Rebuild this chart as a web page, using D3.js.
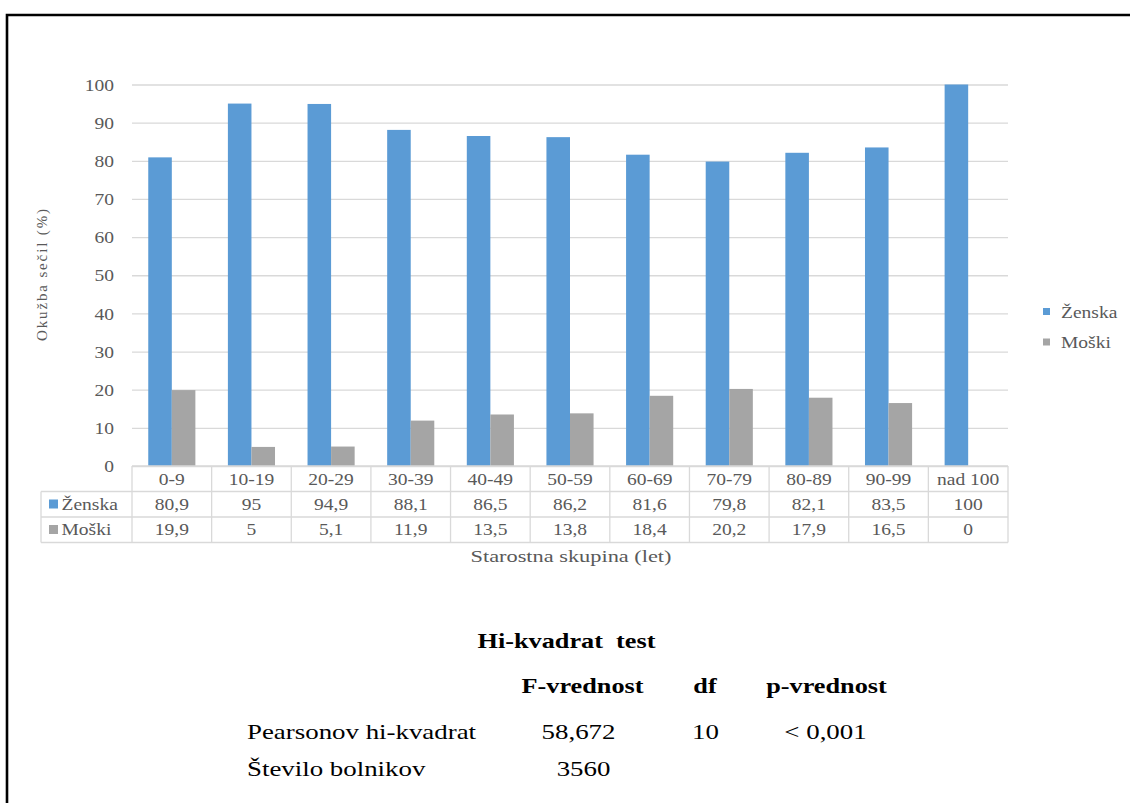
<!DOCTYPE html>
<html>
<head>
<meta charset="utf-8">
<script src="https://cdn.jsdelivr.net/npm/d3@7"></script>
<style>
  html, body { margin: 0; padding: 0; background: #fff; }
  svg { display: block; }
  text { font-family: "Liberation Serif", "Times New Roman", serif; }
</style>
</head>
<body>
<svg id="chart" width="1130" height="803"></svg>
<script>
// Age groups and infection share by sex (%)
const categories = ["0-9", "10-19", "20-29", "30-39", "40-49", "50-59", "60-69", "70-79", "80-89", "90-99", "nad 100"];
const zenska = [80.9, 95, 94.9, 88.1, 86.5, 86.2, 81.6, 79.8, 82.1, 83.5, 100];
const moski = [19.9, 5, 5.1, 11.9, 13.5, 13.8, 18.4, 20.2, 17.9, 16.5, 0];
const seriesNames = ["Ženska", "Moški"];
const seriesColors = ["#5B9BD5", "#A5A5A5"];
const yTicks = [0, 10, 20, 30, 40, 50, 60, 70, 80, 90, 100];

// Chi-square summary
const testTitle = "Hi-kvadrat  test";
const testHeaders = ["F-vrednost", "df", "p-vrednost"];
const testRows = [
  ["Pearsonov hi-kvadrat", "58,672", "10", "< 0,001"],
  ["Število bolnikov", "3560", "", ""]
];

const fmt = v => String(v).replace(".", ",");
const series = [zenska, moski];

const svg = d3.select("#chart");
const textColor = "#595959";
const gridColor = "#D9D9D9";
const fs = 16;          // chart text size
const sx = 1.22;        // horizontal stretch of chart text
const sxStats = 1.25;   // horizontal stretch of the summary text

// Places a horizontally stretched text at (x, y)
function put(sel, x, y, k = sx) {
  return sel.attr("x", 0).attr("y", 0)
    .attr("transform", `translate(${x},${y}) scale(${k},1)`);
}

// Frame
svg.append("path")
  .attr("d", "M7,803 V15 H1130")
  .attr("fill", "none")
  .attr("stroke", "#000")
  .attr("stroke-width", 2.6);

const plot = { left: 132, right: 1008, top: 84.5, bottom: 466 };

const x = d3.scaleBand().domain(categories).range([plot.left, plot.right]).paddingInner(0).paddingOuter(0);
const inner = d3.scaleBand().domain(seriesNames).range([0, x.bandwidth()]).paddingInner(0).paddingOuter(0.69);
const y = d3.scaleLinear().domain([0, 100]).range([plot.bottom, plot.top]);

// Gridlines and y labels
const yAxis = d3.axisLeft(y).tickValues(yTicks).tickSize(-(plot.right - plot.left)).tickPadding(18);
const gy = svg.append("g").attr("transform", `translate(${plot.left},0)`).call(yAxis);
gy.attr("font-family", null).attr("font-size", null);
gy.select(".domain").remove();
gy.selectAll(".tick line").attr("stroke", gridColor).attr("stroke-width", 1.3);
gy.selectAll(".tick text")
  .attr("fill", textColor)
  .attr("font-size", fs)
  .attr("dy", null)
  .each(function () { put(d3.select(this), -18, 5.6); });

// Bars
const groups = svg.append("g").selectAll("g")
  .data(categories)
  .join("g")
  .attr("transform", d => `translate(${x(d)},0)`);

groups.selectAll("rect")
  .data((d, i) => seriesNames.map((s, k) => ({ s, v: series[k][i], c: seriesColors[k] })))
  .join("rect")
  .attr("x", d => inner(d.s))
  .attr("width", inner.bandwidth())
  .attr("y", d => y(d.v))
  .attr("height", d => plot.bottom - y(d.v))
  .attr("fill", d => d.c);

// Data table below the plot
const rowH = 25.5;
const tableLeft = 41;
const tbl = svg.append("g").attr("stroke", gridColor).attr("stroke-width", 1.3).attr("fill", "none");
tbl.append("line").attr("x1", plot.left).attr("x2", plot.right).attr("y1", plot.bottom).attr("y2", plot.bottom);
[1, 2, 3].forEach(r => {
  tbl.append("line").attr("x1", tableLeft).attr("x2", plot.right)
    .attr("y1", plot.bottom + r * rowH).attr("y2", plot.bottom + r * rowH);
});
tbl.append("line").attr("x1", tableLeft).attr("x2", tableLeft)
  .attr("y1", plot.bottom + rowH).attr("y2", plot.bottom + 3 * rowH);
categories.forEach(c => {
  tbl.append("line").attr("x1", x(c)).attr("x2", x(c))
    .attr("y1", plot.bottom).attr("y2", plot.bottom + 3 * rowH);
});
tbl.append("line").attr("x1", plot.right).attr("x2", plot.right)
  .attr("y1", plot.bottom).attr("y2", plot.bottom + 3 * rowH);

const cellText = svg.append("g")
  .attr("font-size", fs)
  .attr("fill", textColor)
  .attr("text-anchor", "middle");

cellText.append("g").selectAll("text")
  .data(categories)
  .join("text")
  .text(d => d)
  .each(function (d) { put(d3.select(this), x(d) + x.bandwidth() / 2, plot.bottom + 19); });

series.forEach((vals, k) => {
  const rowY = plot.bottom + (k + 1) * rowH + 18;
  cellText.append("g").selectAll("text")
    .data(vals)
    .join("text")
    .text(d => fmt(d))
    .each(function (d, i) { put(d3.select(this), x(categories[i]) + x.bandwidth() / 2, rowY); });
  svg.append("rect")
    .attr("x", 49).attr("y", rowY - 10)
    .attr("width", 9).attr("height", 9)
    .attr("fill", seriesColors[k]);
  put(svg.append("text"), 61.5, rowY)
    .attr("font-size", fs).attr("fill", textColor)
    .text(seriesNames[k]);
});

// Axis titles
svg.append("text")
  .attr("transform", "translate(47,275) rotate(-90)")
  .attr("text-anchor", "middle")
  .attr("font-size", 15).attr("fill", textColor)
  .attr("textLength", 132).attr("lengthAdjust", "spacing")
  .text("Okužba sečil (%)");

svg.append("text")
  .attr("x", 571).attr("y", 561.5)
  .attr("text-anchor", "middle")
  .attr("font-size", fs).attr("fill", textColor)
  .attr("textLength", 201).attr("lengthAdjust", "spacingAndGlyphs")
  .text("Starostna skupina (let)");

// Legend
const legend = svg.append("g").attr("transform", "translate(1043,308)");
seriesNames.forEach((s, k) => {
  legend.append("rect").attr("x", 0).attr("y", k * 30.5).attr("width", 7).attr("height", 7).attr("fill", seriesColors[k]);
  put(legend.append("text"), 18, k * 30.5 + 9.5)
    .attr("font-size", fs).attr("fill", textColor)
    .text(s);
});

// Chi-square summary block
const stats = svg.append("g").attr("fill", "#000");
put(stats.append("text"), 566.5, 647.5, sxStats)
  .attr("text-anchor", "middle").attr("font-weight", "bold").attr("font-size", 21)
  .attr("xml:space", "preserve")
  .text(testTitle);

const colX = [582.5, 705, 826.5];
testHeaders.forEach((h, i) => {
  put(stats.append("text"), colX[i], 693, sxStats)
    .attr("text-anchor", "middle").attr("font-weight", "bold").attr("font-size", 21)
    .text(h);
});

const valueX = [[578.5, 705.5, 825.5], [583.5]];
testRows.forEach((row, r) => {
  const ry = r === 0 ? 738.5 : 775.5;
  put(stats.append("text"), 247, ry, sxStats).attr("font-size", 21.5).text(row[0]);
  row.slice(1).forEach((v, i) => {
    if (!v) return;
    put(stats.append("text"), valueX[r][i], ry, sxStats)
      .attr("text-anchor", "middle").attr("font-size", 21.5)
      .text(v);
  });
});
</script>
</body>
</html>
